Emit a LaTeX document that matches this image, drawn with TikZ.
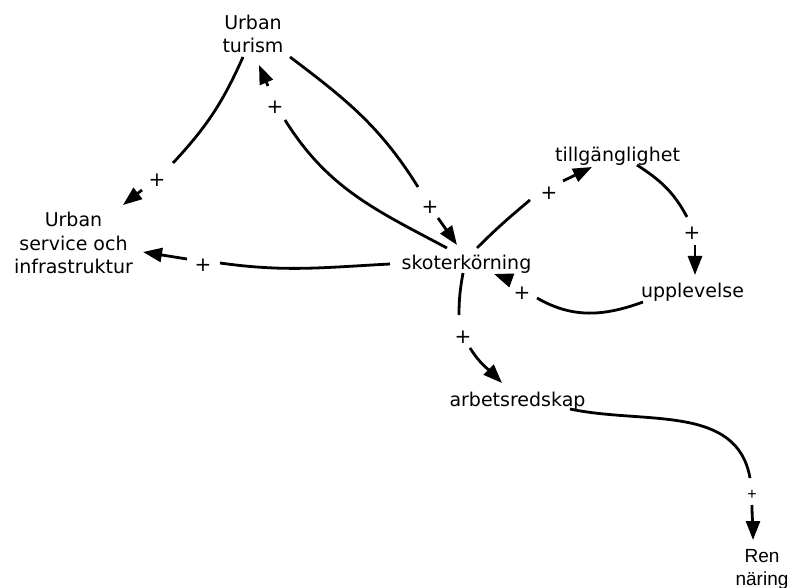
\documentclass[tikz,border=0pt]{standalone}
\usepackage{fontspec}
\setmainfont{DejaVu Sans}
\newfontfamily\helv{Liberation Sans}
\usetikzlibrary{arrows.meta}
\tikzset{
  lbl/.style={font=\fontsize{19}{23.5}\selectfont, inner sep=0pt, align=center, anchor=base},
  pl/.style={font=\fontsize{20}{20}\selectfont, inner sep=0pt},
  link/.style={line width=2.8pt},
  arr/.style={link, -{Triangle[length=19pt,width=14pt]}},
}
\begin{document}
\begin{tikzpicture}[x=1pt,y=1pt]
\useasboundingbox (0,0) rectangle (790,587);

% variables (base anchor = baseline of the last line)
\node[lbl] (tur)   at (253,534)   {Urban\\turism};
\node[lbl] (svc)   at (73.5,313)  {Urban\\service och\\infrastruktur};
\node[lbl] (skot)  at (466.5,317) {skoterkörning};
\node[lbl] (till)  at (617.5,425.5) {tillgänglighet};
\node[lbl] (upp)   at (692.5,289) {upplevelse};
\node[lbl] (arb)   at (517.5,180.3) {arbetsredskap};
\node[lbl,font=\helv\fontsize{19}{23}\selectfont] (ren) at (762,2) {Ren\\näring};

% polarity signs
\node[pl] (p1) at (157,407) {+};
\node[pl] (p2) at (275,480) {+};
\node[pl] (p3) at (430,380) {+};
\node[pl] (p4) at (203,322) {+};
\node[pl] (p5) at (549,394) {+};
\node[pl] (p6) at (692,354) {+};
\node[pl] (p7) at (522,294) {+};
\node[pl] (p8) at (463,250) {+};
\node[pl,font=\helv\fontsize{16}{16}\selectfont] (p9) at (752,92) {+};

% Urban turism -> Urban service
\draw[link] ([shift={(-10,-4)}]tur.base) to[out=-114,in=47] ([shift={(16,17)}]p1.center);
\draw[arr]  ([shift={(-15,-10)}]p1.center) to[out=218,in=38] ([shift={(49.5,69)}]svc.base);

% skoterkörning -> Urban turism
\draw[link] ([shift={(-19.5,22)}]skot.base) to[out=152,in=-58] ([shift={(10,-13)}]p2.center);
\draw[arr]  ([shift={(-7,21)}]p2.center) to[out=113,in=-67] ([shift={(6,-12)}]tur.base);

% Urban turism -> skoterkörning
\draw[link] ([shift={(37,-4)}]tur.base) to[out=-37,in=122] ([shift={(-12,20)}]p3.center);
\draw[arr]  ([shift={(8,-11)}]p3.center) to[out=-55,in=125] ([shift={(-9.5,25)}]skot.base);

% skoterkörning -> Urban service
\draw[link] ([shift={(-76.5,6)}]skot.base) to[out=183,in=-8] ([shift={(17,2)}]p4.center);
\draw[arr]  ([shift={(-16,6)}]p4.center) to[out=171,in=-9] ([shift={(69.5,22)}]svc.base);

% skoterkörning -> tillgänglighet
\draw[link] ([shift={(10.5,22)}]skot.base) to[out=45,in=-140] ([shift={(-19,-7)}]p5.center);
\draw[arr]  ([shift={(14,12)}]p5.center) to[out=26,in=-154] ([shift={(-25.5,-5.5)}]till.base);

% tillgänglighet -> upplevelse
\draw[link] ([shift={(19.5,-3.5)}]till.base) to[out=-33,in=118] ([shift={(-5,16)}]p6.center);
\draw[arr]  ([shift={(3,-12)}]p6.center) to[out=-90,in=90] ([shift={(2.5,23)}]upp.base);

% upplevelse -> skoterkörning
\draw[link] ([shift={(-49.5,-4)}]upp.base) to[out=200,in=-30] ([shift={(15,-5)}]p7.center);
\draw[arr]  ([shift={(-12,13)}]p7.center) to[out=160,in=-20] ([shift={(27.5,-4)}]skot.base);

% skoterkörning -> arbetsredskap
\draw[link] ([shift={(-3.5,-3)}]skot.base) to[out=-100,in=90] ([shift={(-4,22)}]p8.center);
\draw[arr]  ([shift={(7,-11)}]p8.center) to[out=-58,in=135] ([shift={(-15.5,23.7)}]arb.base);

% arbetsredskap -> Ren näring
\draw[link] ([shift={(52.5,-2.3)}]arb.base) to[out=-12,in=100] ([shift={(-2,17)}]p9.center);
\draw[arr]  ([shift={(0,-10)}]p9.center) to[out=-90,in=90] ([shift={(-9,45)}]ren.base);
\end{tikzpicture}
\end{document}
